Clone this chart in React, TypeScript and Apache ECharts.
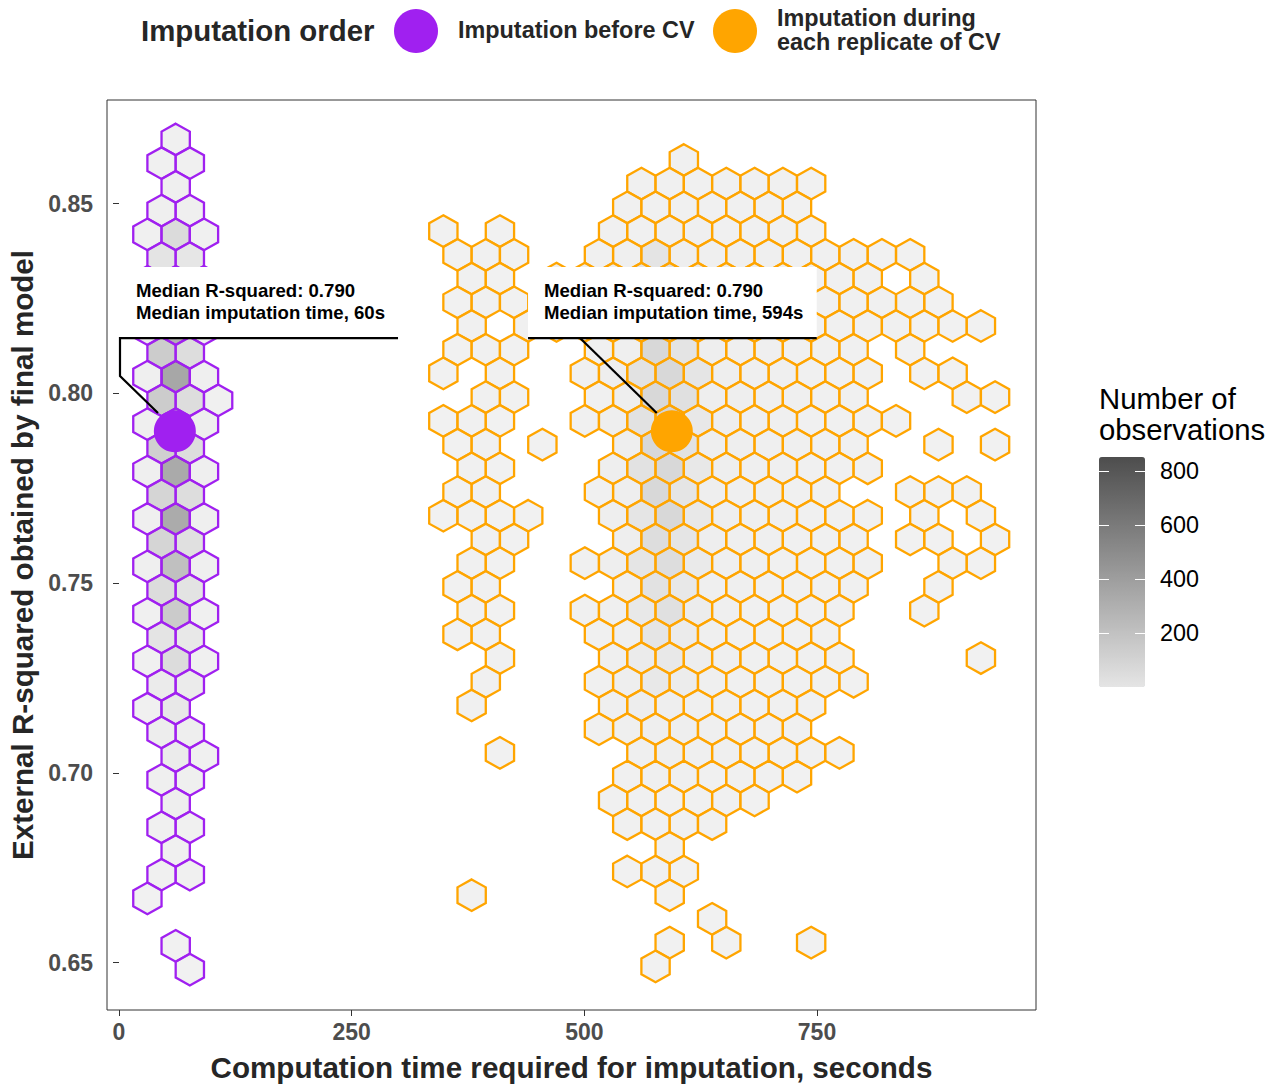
import React, { useEffect, useRef } from "react";
import * as echarts from "echarts";

const FONT = '"Liberation Sans", Arial, Helvetica, sans-serif';

// ---- axes ----
const X_MIN = -12.9;
const X_MAX = 985.3;
const Y_MIN = 0.6375;
const Y_MAX = 0.8773;
const xTicks = [0, 250, 500, 750];
const yTicks = [0.65, 0.7, 0.75, 0.8, 0.85];
const xTitle = "Computation time required for imputation, seconds";
const yTitle = "External R-squared obtained by final model";

// ---- hexagon grid (bin spacing in data units) ----
const HEX_DX = 30.4; // seconds between neighbouring hex centres in one row
const HEX_DY = 0.00625; // R-squared between hex rows

// group names & colours
const groupNames = ["Imputation before CV", "Imputation during\neach replicate of CV"];
const groupColors = ["#A020F0", "#FFA500"];

// Imputation before CV: rows of [rowIndex, firstColumn, counts...]; odd rows shifted half a bin
const beforeOriginX = 30.5;
const beforeOriginY = 0.8669;
const beforeShiftedParity = 1;
const beforeRows: number[][] = [
  [0, 1, 20],
  [1, 0, 25, 20],
  [2, 1, 30],
  [3, 0, 35, 30],
  [4, 0, 20, 260, 25],
  [5, 0, 150, 130],
  [6, 0, 60, 330, 50],
  [7, 0, 300, 230],
  [8, 0, 50, 720, 40],
  [9, 0, 420, 235],
  [10, 0, 30, 840, 30],
  [11, 0, 420, 235, 25],
  [12, 0, 30, 520, 40],
  [13, 0, 380, 235],
  [14, 0, 30, 800, 35],
  [15, 0, 320, 230],
  [16, 0, 30, 790, 35],
  [17, 0, 320, 200],
  [18, 0, 30, 560, 30],
  [19, 0, 240, 170],
  [20, 0, 25, 430, 25],
  [21, 0, 150, 110],
  [22, 0, 20, 240, 20],
  [23, 0, 80, 80],
  [24, 0, 25, 110],
  [25, 0, 50, 40],
  [26, 1, 70, 20],
  [27, 0, 30, 30],
  [28, 1, 40],
  [29, 0, 20, 20],
  [30, 1, 20],
  [31, 0, 15, 15],
  [32, 0, 5],
  [34, 1, 5],
  [35, 1, 5],
];

// Imputation during each replicate of CV: even rows shifted half a bin
const duringOriginX = 348.5;
const duringOriginY = 0.8615;
const duringShiftedParity = 0;
const duringRows: number[][] = [
  [0, 8, 15],
  [1, 7, 15, 20, 20, 20, 18, 15, 12],
  [2, 6, 15, 25, 25, 25, 20, 18, 12],
  [3, 0, 10, 0, 12, 0, 0, 0, 18, 25, 30, 28, 25, 20, 18, 12],
  [4, 0, 12, 14, 12, 0, 0, 22, 35, 150, 40, 35, 30, 28, 22, 18, 15, 12, 10],
  [5, 1, 14, 12, 0, 30, 40, 45, 170, 200, 90, 45, 35, 30, 25, 20, 15, 0, 12],
  [6, 0, 12, 14, 12, 0, 30, 50, 80, 260, 160, 70, 55, 45, 35, 25, 20, 18, 15, 12],
  [7, 1, 15, 0, 14, 30, 40, 45, 180, 280, 110, 50, 40, 30, 25, 20, 18, 15, 12, 12, 10],
  [8, 0, 12, 14, 12, 0, 0, 25, 35, 290, 150, 40, 35, 30, 25, 20, 18, 0, 12],
  [9, 0, 12, 0, 14, 0, 0, 25, 40, 180, 290, 140, 40, 35, 30, 25, 20, 15, 0, 12, 10],
  [10, 1, 14, 12, 0, 0, 25, 40, 290, 200, 45, 40, 35, 30, 25, 20, 0, 0, 0, 10, 10],
  [11, 0, 12, 14, 12, 0, 0, 25, 40, 180, 330, 112, 40, 35, 30, 25, 20, 15, 12],
  [12, 0, 12, 14, 0, 10, 0, 0, 40, 290, 180, 45, 40, 35, 30, 25, 20, 0, 0, 10, 0, 10],
  [13, 1, 14, 12, 0, 0, 0, 40, 180, 290, 112, 40, 35, 30, 25, 20, 15],
  [14, 0, 12, 14, 0, 0, 0, 25, 40, 290, 146, 40, 35, 30, 25, 20, 0, 0, 12, 12, 10],
  [15, 0, 12, 14, 12, 10, 0, 0, 40, 146, 290, 112, 40, 35, 30, 25, 20, 15, 0, 12, 0, 10],
  [16, 1, 14, 12, 0, 0, 0, 40, 235, 146, 40, 35, 30, 25, 20, 15, 0, 12, 12, 0, 10],
  [17, 1, 14, 12, 0, 0, 25, 40, 146, 235, 90, 35, 30, 25, 20, 18, 15, 0, 0, 12, 10],
  [18, 0, 12, 14, 0, 0, 0, 0, 35, 180, 112, 35, 30, 25, 20, 18, 15, 0, 0, 12],
  [19, 1, 14, 12, 0, 0, 25, 35, 112, 200, 60, 30, 25, 20, 18, 15, 0, 0, 12],
  [20, 0, 12, 14, 0, 0, 0, 22, 35, 146, 70, 30, 25, 20, 18, 15],
  [21, 2, 14, 0, 0, 0, 35, 70, 112, 50, 30, 25, 20, 18, 15, 0, 0, 0, 0, 10],
  [22, 1, 14, 0, 0, 0, 25, 40, 112, 60, 30, 25, 20, 18, 15, 12],
  [23, 1, 14, 0, 0, 0, 0, 35, 50, 45, 35, 30, 25, 20, 15],
  [24, 5, 25, 35, 45, 40, 30, 25, 20, 15],
  [25, 2, 12, 0, 0, 0, 0, 35, 40, 35, 30, 25, 20, 15, 10],
  [26, 6, 25, 30, 30, 25, 22, 18, 12],
  [27, 6, 22, 25, 25, 22, 18, 12],
  [28, 6, 18, 22, 22, 15],
  [29, 8, 18],
  [30, 6, 12, 18, 12],
  [31, 1, 8, 0, 0, 0, 0, 0, 0, 12],
  [32, 9, 8],
  [33, 8, 8, 0, 8, 0, 0, 8],
  [34, 7, 8],
];

// medians
const medianTime = [60, 594];
const medianR2 = [0.79, 0.79];

// colour scale
const COUNT_MIN = 0;
const COUNT_MAX = 850;
const colorbarTicks = [200, 400, 600, 800];

// annotations (data coordinates)
const annotationLines = [
  ["Median R-squared: 0.790", "Median imputation time, 60s"],
  ["Median R-squared: 0.790", "Median imputation time, 594s"],
];
const annotationBoxes = [
  [1.07, 0.8333, 299.8, 0.81457],
  [439.5, 0.8333, 749.7, 0.81457],
];
const annotationSegments = [
  [[[299.8, 0.81457], [1.07, 0.81457], [1.07, 0.80456], [41.9, 0.79481]]],
  [
    [[439.5, 0.81457], [749.7, 0.81457]],
    [[495.3, 0.81457], [577.8, 0.79483]],
  ],
];

function buildHexData(rows: number[][], originX: number, originY: number, shiftedParity: number) {
  const out: number[][] = [];
  rows.forEach((r) => {
    const row = r[0];
    const start = r[1];
    const counts = r.slice(2);
    const y = originY - row * HEX_DY;
    const shift = row % 2 === shiftedParity ? HEX_DX / 2 : 0;
    counts.forEach((n, i) => {
      if (n > 0) out.push([originX + shift + (start + i) * HEX_DX, y, n]);
    });
  });
  return out;
}

function hexRenderer(stroke: string) {
  return (params: any, api: any) => {
    const c = api.coord([api.value(0), api.value(1)]);
    const w = api.size([HEX_DX, 0])[0];
    const h = api.size([0, HEX_DY])[1];
    const rv = h / 1.5;
    const hw = w / 2;
    const x = c[0];
    const y = c[1];
    return {
      type: "polygon",
      shape: {
        points: [
          [x, y - rv],
          [x + hw, y - rv / 2],
          [x + hw, y + rv / 2],
          [x, y + rv],
          [x - hw, y + rv / 2],
          [x - hw, y - rv / 2],
        ],
      },
      style: {
        fill: echarts.color.modifyAlpha(api.visual("color"), 0.5),
        stroke,
        lineWidth: 2.3,
      },
    };
  };
}

export default function App() {
  const ref = useRef<HTMLDivElement>(null);

  useEffect(() => {
    if (!ref.current) return;
    const chart = echarts.init(ref.current, undefined, { renderer: "svg" });

    const beforeData = buildHexData(beforeRows, beforeOriginX, beforeOriginY, beforeShiftedParity);
    const duringData = buildHexData(duringRows, duringOriginX, duringOriginY, duringShiftedParity);

    const barTop = 457;
    const barHeight = 230;
    const barLeft = 1099;
    const barWidth = 46;
    const valToY = (v: number) => barTop + barHeight - ((v - COUNT_MIN) / (COUNT_MAX - COUNT_MIN)) * barHeight;

    const graphic: any[] = [
      {
        type: "text",
        x: 141,
        y: 30,
        style: { text: "Imputation order", font: `bold 29.4px ${FONT}`, fill: "#262626", textVerticalAlign: "middle", textAlign: "left" },
      },
      { type: "circle", shape: { cx: 416, cy: 31, r: 22 }, style: { fill: groupColors[0] } },
      {
        type: "text",
        x: 458,
        y: 30,
        style: { text: groupNames[0], font: `bold 23.4px ${FONT}`, fill: "#262626", textVerticalAlign: "middle", textAlign: "left" },
      },
      { type: "circle", shape: { cx: 735, cy: 31, r: 22 }, style: { fill: groupColors[1] } },
      {
        type: "text",
        x: 777,
        y: 30,
        style: {
          text: groupNames[1],
          font: `bold 23.4px ${FONT}`,
          lineHeight: 24,
          fill: "#262626",
          textVerticalAlign: "middle",
          textAlign: "left",
        },
      },
      {
        type: "text",
        x: 1099,
        y: 414,
        style: {
          text: "Number of\nobservations",
          font: `29.3px ${FONT}`,
          lineHeight: 31,
          fill: "#000000",
          textVerticalAlign: "middle",
          textAlign: "left",
        },
      },
    ];
    colorbarTicks.forEach((v) => {
      const y = Math.round(valToY(v)) + 0.5;
      graphic.push({
        type: "line",
        z: 100,
        shape: { x1: barLeft, y1: y, x2: barLeft + 10, y2: y },
        style: { stroke: "#ffffff", lineWidth: 1 },
      });
      graphic.push({
        type: "line",
        z: 100,
        shape: { x1: barLeft + barWidth - 10, y1: y, x2: barLeft + barWidth, y2: y },
        style: { stroke: "#ffffff", lineWidth: 1 },
      });
      graphic.push({
        type: "text",
        z: 100,
        x: 1160,
        y: valToY(v),
        style: { text: String(v), font: `23.4px ${FONT}`, fill: "#000000", textVerticalAlign: "middle", textAlign: "left" },
      });
    });

    const option: any = {
      animation: false,
      backgroundColor: "#ffffff",
      textStyle: { fontFamily: FONT },
      grid: {
        left: 107,
        top: 100,
        right: 240,
        bottom: 74,
        show: true,
        borderColor: "#333333",
        borderWidth: 1,
        backgroundColor: "#ffffff",
        containLabel: false,
        outerBoundsMode: "none",
      },
      xAxis: {
        type: "value",
        min: X_MIN,
        max: X_MAX,
        name: xTitle,
        nameLocation: "middle",
        nameGap: 42,
        nameTextStyle: { fontSize: 29.6, fontWeight: "bold", color: "#262626", fontFamily: FONT },
        axisLine: { show: false },
        axisTick: { show: true, length: 6, lineStyle: { color: "#333333", width: 1 }, customValues: xTicks },
        axisLabel: {
          customValues: xTicks,
          fontSize: 23,
          fontWeight: "bold",
          color: "#4D4D4D",
          margin: 10,
          fontFamily: FONT,
        },
        splitLine: { show: false },
      },
      yAxis: {
        type: "value",
        min: Y_MIN,
        max: Y_MAX,
        name: yTitle,
        nameLocation: "middle",
        nameRotate: 90,
        nameGap: 68,
        nameTextStyle: { fontSize: 29.6, fontWeight: "bold", color: "#262626", fontFamily: FONT },
        axisLine: { show: false },
        axisTick: { show: true, length: 6, lineStyle: { color: "#333333", width: 1 }, customValues: yTicks },
        axisLabel: {
          customValues: yTicks,
          formatter: (v: number) => v.toFixed(2),
          fontSize: 23,
          fontWeight: "bold",
          color: "#4D4D4D",
          margin: 14,
          fontFamily: FONT,
        },
        splitLine: { show: false },
      },
      visualMap: {
        type: "continuous",
        min: COUNT_MIN,
        max: COUNT_MAX,
        dimension: 2,
        seriesIndex: [0, 1],
        inRange: { color: ["#E5E5E5", "#4D4D4D"] },
        orient: "vertical",
        left: barLeft,
        top: barTop,
        itemWidth: barWidth,
        itemHeight: barHeight,
        calculable: false,
        text: null,
        showLabel: false,
        padding: 0,
        textGap: 0,
        hoverLink: false,
      },
      graphic,
      series: [
        {
          type: "custom",
          name: groupNames[0],
          coordinateSystem: "cartesian2d",
          renderItem: hexRenderer(groupColors[0]),
          data: beforeData,
          encode: { x: 0, y: 1 },
          silent: true,
          z: 2,
        },
        {
          type: "custom",
          name: groupNames[1],
          coordinateSystem: "cartesian2d",
          renderItem: hexRenderer(groupColors[1]),
          data: duringData,
          encode: { x: 0, y: 1 },
          silent: true,
          z: 2,
        },
        {
          type: "scatter",
          name: "median",
          data: medianTime.map((t, i) => ({
            value: [t, medianR2[i]],
            itemStyle: { color: groupColors[i], opacity: 1 },
          })),
          symbol: "circle",
          symbolSize: 42,
          silent: true,
          z: 3,
        },
        {
          type: "custom",
          name: "annotations",
          coordinateSystem: "cartesian2d",
          silent: true,
          z: 4,
          data: annotationBoxes.map((b) => [b[0], b[1]]),
          renderItem: (params: any, api: any) => {
            const i = params.dataIndex;
            const b = annotationBoxes[i];
            const p0 = api.coord([b[0], b[1]]);
            const p1 = api.coord([b[2], b[3]]);
            const children: any[] = [
              {
                type: "rect",
                shape: { x: p0[0], y: p0[1], width: p1[0] - p0[0], height: p1[1] - p0[1] },
                style: { fill: "#ffffff" },
              },
            ];
            annotationLines[i].forEach((t, k) => {
              children.push({
                type: "text",
                style: {
                  text: t,
                  x: p0[0] + 16,
                  y: p0[1] + 24 + k * 22,
                  font: `bold 18.6px ${FONT}`,
                  fill: "#000000",
                  textAlign: "left",
                  textVerticalAlign: "middle",
                },
              });
            });
            annotationSegments[i].forEach((seg) => {
              children.push({
                type: "polyline",
                shape: { points: seg.map((p) => api.coord(p)) },
                style: { stroke: "#000000", lineWidth: 2.2, fill: null },
              });
            });
            return { type: "group", children };
          },
        },
      ],
    };

    chart.setOption(option);
    return () => chart.dispose();
  }, []);

  return (
    <div
      ref={ref}
      style={{ position: "fixed", left: 0, top: 0, width: 1276, height: 1084, background: "#fff" }}
    />
  );
}
